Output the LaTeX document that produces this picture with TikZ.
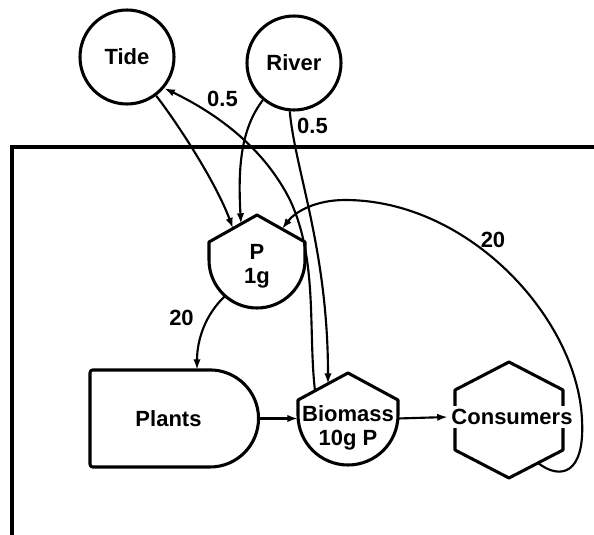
\documentclass[tikz,border=0pt]{standalone}
\usepackage{fontspec}
\setmainfont{Liberation Sans}
\usetikzlibrary{arrows.meta}
\begin{document}
\begin{tikzpicture}[x=0.75pt,y=-0.75pt,
  lab/.style={font=\fontsize{16.5}{18}\selectfont\bfseries},
  pool/.style={draw, circle, line width=2.3pt, minimum size=70.5pt, inner sep=0pt, lab},
  outl/.style={line width=2.3pt, line join=round},
  flow/.style={line width=1.6pt, -{Latex[length=8pt,width=5.5pt]}},
  txt/.style={lab, align=center, inner sep=0pt}]
\useasboundingbox (0,0) rectangle (594,535);
% system boundary
\draw[line width=2.5pt] (12,536) -- (12,147) -- (596,147);
% sources
\node[pool] (tide) at (127,57) {Tide};
\node[pool] (river) at (294,63) {River};
% P storage
\draw[outl] (209,260) -- (209,242) -- (257,215) -- (305,242) -- (305,260)
  arc[start angle=0, end angle=-180, radius=36pt] -- cycle;
\node[txt] (P) at (257,266) {P\\1g};
% Plants
\draw[outl] (210,370) -- (93,370) to[rounded corners=2pt] (90,370) -- (90,373) -- (90,464)
  to[rounded corners=2pt] (90,467) -- (93,467) -- (210,467)
  arc[start angle=-90, end angle=90, radius=36.4pt];
\node[lab] (plants) at (168.5,419) {Plants};
% Biomass
\draw[outl] (298,415) -- (298,400) -- (348,373) -- (398,400) -- (398,415)
  arc[start angle=0, end angle=-180, radius=37.5pt] -- cycle;
\node[txt] (bio) at (348,427.5) {Biomass\\10g P};
% Consumers
\draw[outl] (509,362) -- (563,390) -- (563,450) -- (509,478) -- (455,450) -- (455,390) -- cycle;
\node[lab, fill=white, inner sep=2.5pt] (cons) at (512,417) {Consumers};
% connection points
\coordinate (Ptl) at (233,228.5);
\coordinate (Ptm) at (241,224);
\coordinate (Ptr) at (282,229);
\coordinate (Pbl) at (225,296);
\coordinate (plantsT) at (197,370);
\coordinate (plantsR) at (258.5,418.5);
\coordinate (bioL) at (298,418.5);
\coordinate (bioR) at (398,418.5);
\coordinate (bioTL) at (315,391);
\coordinate (bioTR) at (328,384);
\coordinate (consBR) at (538,463);
% flows
\draw[flow] (tide.-53) .. controls (175,120) and (215,180) .. (Ptl);
\draw[flow] (river.-130) .. controls (240,130) and (238,170) .. (Ptm);
\draw[flow] (river.-95) .. controls (295,170) and (328,250) .. (bioTR);
\draw[flow] (bioTL) .. controls (308,330) and (318,260) .. (290,200)
  .. controls (265,150) and (220,115) .. (tide.-40);
\draw[flow] (Pbl) .. controls (205,315) and (197,340) .. (plantsT);
\draw[flow] (plantsR) -- (bioL);
\draw[flow] (bioR) -- (cons.west);
\draw[flow] (consBR) .. controls (560,480) and (585,475) .. (582,420)
  .. controls (578,320) and (470,200) .. (345,200)
  .. controls (315,200) and (295,212) .. (Ptr);
% labels
\node[lab] (l1) at (222.5,98.5) {0.5};
\node[lab] (l2) at (312.5,125.5) {0.5};
\node[lab] (l3) at (181.5,317.5) {20};
\node[lab] (l4) at (493,240) {20};
\end{tikzpicture}
\end{document}
